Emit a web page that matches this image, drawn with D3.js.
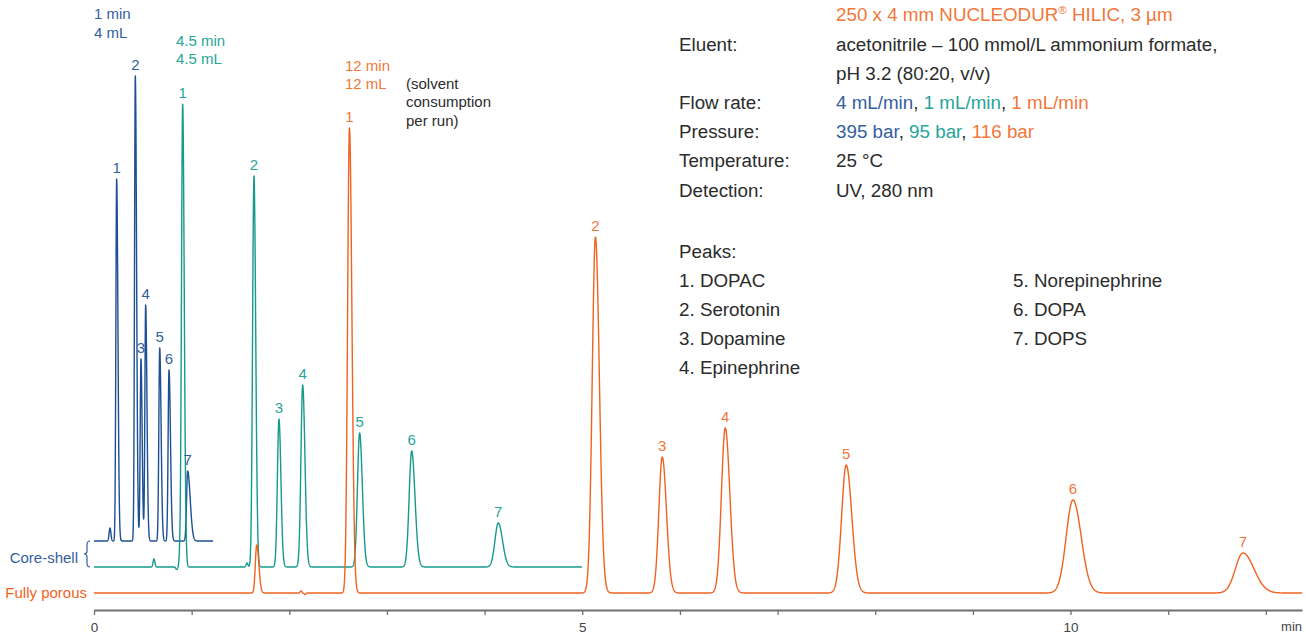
<!DOCTYPE html>
<html>
<head>
<meta charset="utf-8">
<script src="https://cdn.jsdelivr.net/npm/d3@7/dist/d3.min.js"></script>
<style>
  html, body { margin: 0; padding: 0; background: #fff; }
  svg { display: block; font-family: "Liberation Sans", Arial, Helvetica, sans-serif; }
</style>
</head>
<body>
<svg id="chart" width="1306" height="634"></svg>
<script>
// ---------------- DATA ----------------
const peakNumbers = [1, 2, 3, 4, 5, 6, 7];
const peakNames = ["DOPAC", "Serotonin", "Dopamine", "Epinephrine", "Norepinephrine", "DOPA", "DOPS"];

// Core-shell, 1 min run (blue)
const fastTimes   = [0.232, 0.423, 0.481, 0.529, 0.673, 0.768, 0.959];
const fastHeights = [362, 465, 182, 236, 193, 171, 70];
const fastSigL    = [0.008, 0.008, 0.008, 0.008, 0.009, 0.009, 0.011];
const fastSigR    = [0.013, 0.013, 0.012, 0.013, 0.014, 0.015, 0.026];
const fastExtraTimes = [0.164];
const fastExtraHeights = [13];
const fastEnd = 1.219;

// Core-shell, 4.5 min run (teal)
const coreTimes   = [0.908, 1.638, 1.894, 2.137, 2.720, 3.253, 4.140];
const coreHeights = [463, 391, 148, 182, 134, 116, 44];
const coreSigL    = [0.012, 0.014, 0.016, 0.018, 0.022, 0.026, 0.034];
const coreSigR    = [0.016, 0.018, 0.020, 0.023, 0.028, 0.034, 0.043];
const coreExtraTimes = [0.614, 0.847, 0.880, 1.567];
const coreExtraHeights = [8, -2.5, 9, 4];
const coreEnd = 4.997;

// Fully porous, 12 min run (orange)
const porousTimes   = [2.616, 5.135, 5.819, 6.464, 7.703, 10.025, 11.765];
const porousHeights = [465, 356, 136, 165, 128, 93, 40];
const porousSigL    = [0.019, 0.033, 0.035, 0.039, 0.047, 0.070, 0.077];
const porousSigR    = [0.025, 0.040, 0.043, 0.047, 0.057, 0.084, 0.113];
const porousExtraTimes = [1.666, 2.120, 2.160];
const porousExtraHeights = [48, 2, -1.5];
const porousEnd = 12.37;

// vertical offsets of the stacked traces (signal units)
const traceOffsets = [52, 26, 0];

const xTicks = [0, 1, 2, 3, 4, 5, 6, 7, 8, 9, 10, 11, 12];
const xTickLabels = ["0", "", "", "", "", "5", "", "", "", "", "10", "", ""];

const runLabels = [["1 min", "4 mL"], ["4.5 min", "4.5 mL"], ["12 min", "12 mL"]];
const noteLines = ["(solvent", "consumption", "per run)"];

const condLabels = ["Eluent:", "", "Flow rate:", "Pressure:", "Temperature:", "Detection:"];
const flowValues = ["4 mL/min", "1 mL/min", "1 mL/min"];
const pressureValues = ["395 bar", "95 bar", "116 bar"];

// ---------------- STYLE ----------------
const lineColors = ["#1c4f93", "#159a8c", "#f0631f"];
const textColors = ["#33609f", "#27a597", "#f2773a"];
const dark = "#2b2b2b";

const svg = d3.select("#chart");

const x = d3.scaleLinear().domain([0, 12.37]).range([94, 1302]);
const y = d3.scaleLinear().domain([0, 500]).range([593, 93]);

function signal(t, times, heights, sL, sR, exT, exH) {
  let v = 0;
  for (let i = 0; i < times.length; i++) {
    const d = t - times[i];
    const s = d < 0 ? sL[i] : sR[i];
    v += heights[i] * Math.exp(-0.5 * (d / s) * (d / s));
  }
  for (let i = 0; i < exT.length; i++) {
    const d = t - exT[i];
    const s = Math.abs(exH[i]) > 20 ? (d < 0 ? 0.014 : 0.022) : 0.009;
    v += exH[i] * Math.exp(-0.5 * (d / s) * (d / s));
  }
  return v;
}

function buildTrace(times, heights, sL, sR, exT, exH, end, offset, step) {
  const pts = [];
  const n = Math.round(end / step);
  for (let k = 0; k <= n; k++) {
    const t = k * step;
    pts.push([t, offset + signal(t, times, heights, sL, sR, exT, exH)]);
  }
  return pts;
}

const traces = [
  buildTrace(fastTimes, fastHeights, fastSigL, fastSigR, fastExtraTimes, fastExtraHeights, fastEnd, traceOffsets[0], 0.0008),
  buildTrace(coreTimes, coreHeights, coreSigL, coreSigR, coreExtraTimes, coreExtraHeights, coreEnd, traceOffsets[1], 0.0015),
  buildTrace(porousTimes, porousHeights, porousSigL, porousSigR, porousExtraTimes, porousExtraHeights, porousEnd, traceOffsets[2], 0.002)
];
const peakSets = [
  [fastTimes, fastHeights],
  [coreTimes, coreHeights],
  [porousTimes, porousHeights]
];

const line = d3.line().x(d => x(d[0])).y(d => y(d[1]));

// ---------------- AXIS ----------------
const axis = d3.axisBottom(x)
  .tickValues(xTicks)
  .tickFormat((d, i) => xTickLabels[i])
  .tickSize(5)
  .tickSizeOuter(0)
  .tickPadding(7);
const gAxis = svg.append("g").attr("transform", "translate(0,610)").call(axis);
gAxis.select(".domain").attr("stroke", "#707070").attr("stroke-width", 2);
gAxis.selectAll(".tick line").attr("stroke", "#707070").attr("stroke-width", 1.3);
gAxis.selectAll(".tick text").attr("fill", "#444").attr("font-size", 13.5)
  .attr("font-family", "Liberation Sans, Arial, sans-serif");
svg.append("text").attr("x", 1302).attr("y", 631).attr("text-anchor", "end")
  .attr("font-size", 13).attr("fill", "#444").text("min");

// ---------------- TRACES ----------------
traces.forEach((tr, i) => {
  svg.append("path").datum(tr)
    .attr("fill", "none")
    .attr("stroke", lineColors[i])
    .attr("stroke-width", 1.4)
    .attr("stroke-linejoin", "round")
    .attr("d", line);
});

// peak number labels
peakSets.forEach((ps, i) => {
  const [times, heights] = ps;
  svg.append("g").selectAll("text").data(peakNumbers).join("text")
    .attr("x", (d, j) => x(times[j]))
    .attr("y", (d, j) => y(traceOffsets[i] + heights[j]) - 6)
    .attr("text-anchor", "middle")
    .attr("font-size", 15)
    .attr("fill", textColors[i])
    .text(d => d);
});

// ---------------- RUN LABELS ----------------
const runPos = [[94, 19, 37.5], [176, 45.5, 64], [345, 70.5, 88.5]];
runLabels.forEach((lines, i) => {
  lines.forEach((s, k) => {
    svg.append("text").attr("x", runPos[i][0]).attr("y", runPos[i][1 + k])
      .attr("font-size", 15).attr("fill", textColors[i]).text(s);
  });
});
noteLines.forEach((s, k) => {
  svg.append("text").attr("x", 406).attr("y", 88.5 + k * 18.5)
    .attr("font-size", 15).attr("fill", dark).text(s);
});

// ---------------- LEFT LABELS ----------------
svg.append("text").attr("x", 78).attr("y", 563).attr("text-anchor", "end")
  .attr("font-size", 15).attr("fill", textColors[0]).text("Core-shell");
svg.append("text").attr("x", 87).attr("y", 598).attr("text-anchor", "end")
  .attr("font-size", 15).attr("fill", lineColors[2]).text("Fully porous");
// brace
const bTop = y(traceOffsets[0]), bBot = y(traceOffsets[1]), bMid = (bTop + bBot) / 2, bx = 87;
svg.append("path")
  .attr("d", `M${bx + 3},${bTop} Q${bx},${bTop} ${bx},${bTop + 4} L${bx},${bMid - 3} Q${bx},${bMid} ${bx - 3},${bMid} Q${bx},${bMid} ${bx},${bMid + 3} L${bx},${bBot - 4} Q${bx},${bBot} ${bx + 3},${bBot}`)
  .attr("fill", "none").attr("stroke", textColors[0]).attr("stroke-width", 1.2);

// ---------------- CONDITIONS BLOCK ----------------
const fs = 18.8;
const c1 = 679, c2 = 836;
const rowY = [50.5, 79.5, 108.5, 137.5, 166.5, 196.5];

const title = svg.append("text").attr("x", c2).attr("y", 20.5).attr("font-size", fs).attr("fill", textColors[2]);
title.append("tspan").text("250 x 4 mm NUCLEODUR");
title.append("tspan").attr("font-size", 11.5).attr("dy", -7).text("®");
title.append("tspan").attr("dy", 7).text(" HILIC, 3 µm");

condLabels.forEach((s, i) => {
  if (s) svg.append("text").attr("x", c1).attr("y", rowY[i]).attr("font-size", fs).attr("fill", dark).text(s);
});
svg.append("text").attr("x", c2).attr("y", rowY[0]).attr("font-size", fs).attr("fill", dark)
  .text("acetonitrile – 100 mmol/L ammonium formate,");
svg.append("text").attr("x", c2).attr("y", rowY[1]).attr("font-size", fs).attr("fill", dark)
  .text("pH 3.2 (80:20, v/v)");

function colored(vals, yy) {
  const t = svg.append("text").attr("x", c2).attr("y", yy).attr("font-size", fs).attr("fill", dark);
  vals.forEach((v, i) => {
    t.append("tspan").attr("fill", textColors[i]).text(v);
    if (i < vals.length - 1) t.append("tspan").attr("fill", dark).text(", ");
  });
}
colored(flowValues, rowY[2]);
colored(pressureValues, rowY[3]);
svg.append("text").attr("x", c2).attr("y", rowY[4]).attr("font-size", fs).attr("fill", dark).text("25 °C");
svg.append("text").attr("x", c2).attr("y", rowY[5]).attr("font-size", fs).attr("fill", dark).text("UV, 280 nm");

svg.append("text").attr("x", c1).attr("y", 257.5).attr("font-size", fs).attr("fill", dark).text("Peaks:");
peakNames.forEach((n, i) => {
  const col = i < 4 ? 0 : 1;
  const row = i < 4 ? i : i - 4;
  svg.append("text").attr("x", col === 0 ? c1 : 1013).attr("y", 286.5 + row * 29.3)
    .attr("font-size", fs).attr("fill", dark).text(`${peakNumbers[i]}. ${n}`);
});
</script>
</body>
</html>
